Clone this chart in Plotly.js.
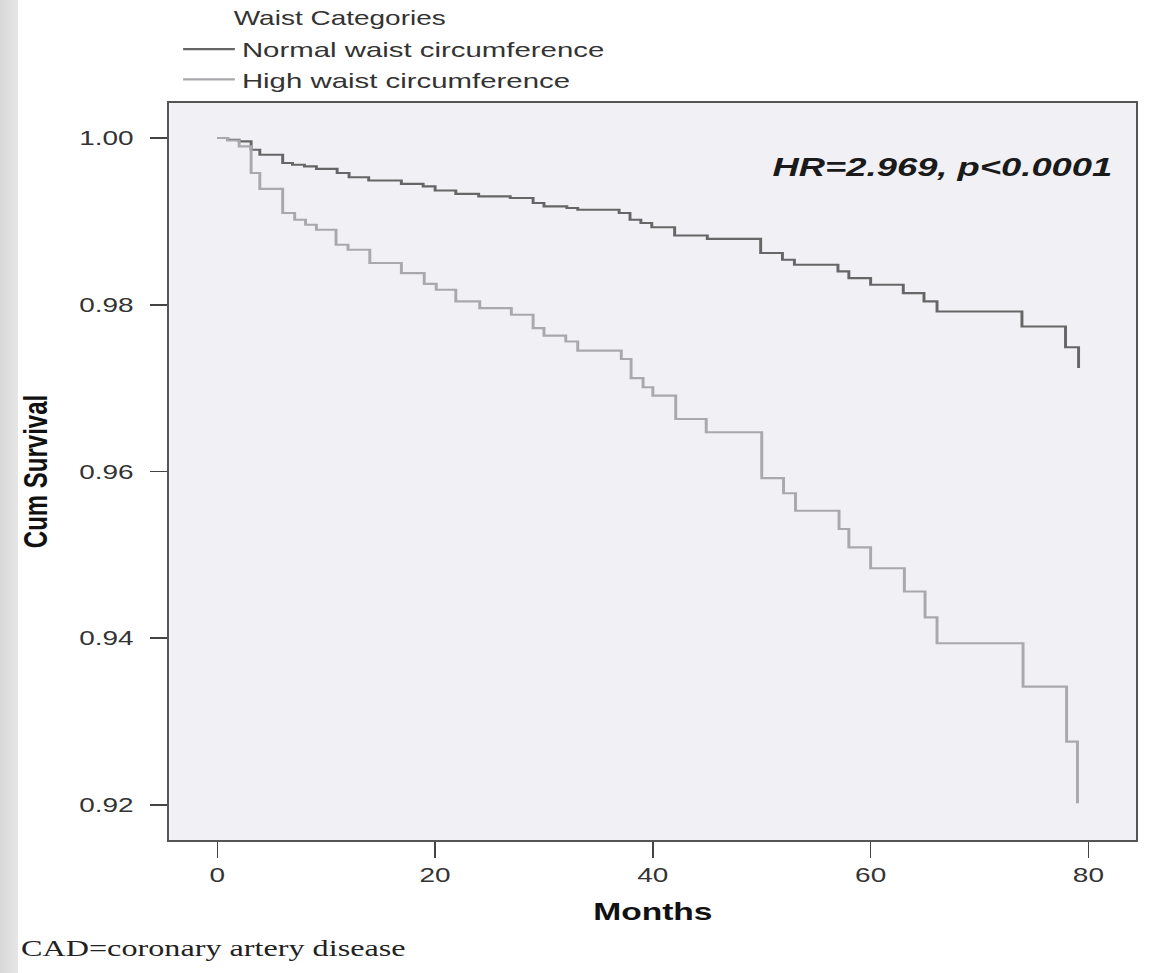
<!DOCTYPE html>
<html><head><meta charset="utf-8">
<script src="https://cdn.plot.ly/plotly-3.0.1.min.js"></script>
<style>
html,body{margin:0;padding:0;width:1156px;height:973px;overflow:hidden;}
body{background:linear-gradient(to right,#d8d8d8 0px,#e6e6e6 18px,#ffffff 18px,#ffffff 100%);}
#wrap{width:826px;height:973px;transform:scale(1.3995,1);transform-origin:0 0;}
</style></head><body>
<div id="wrap"><div id="chart" style="width:826px;height:973px;"></div></div>
<script>
// Data (months, cumulative survival)
var normalTime = [0, 0.95, 2.0, 3.1, 3.9, 6.0, 6.9, 8.0, 9.1, 11.0, 12.1, 13.9, 16.9, 18.9, 20.0, 21.9, 24.0, 26.9, 29.0, 30.0, 32.1, 33.1, 36.9, 37.9, 38.9, 39.9, 42.0, 45.0, 49.9, 51.9, 53.0, 57.0, 58.0, 60.0, 63.0, 64.9, 66.1, 73.9, 77.9, 79.1];
var normalSurv = [1.0000, 0.9998, 0.9996, 0.9986, 0.9980, 0.9970, 0.9968, 0.9966, 0.9963, 0.9958, 0.9953, 0.9949, 0.9945, 0.9942, 0.9937, 0.9933, 0.9930, 0.9928, 0.9922, 0.9918, 0.9916, 0.9914, 0.9910, 0.9902, 0.9898, 0.9893, 0.9883, 0.9879, 0.9862, 0.9854, 0.9848, 0.9840, 0.9832, 0.9824, 0.9814, 0.9804, 0.9792, 0.9774, 0.9749, 0.9724];
var highTime = [0, 0.95, 2.0, 3.1, 3.9, 6.0, 7.1, 8.1, 9.1, 10.9, 12.0, 14.0, 16.9, 19.0, 20.1, 21.9, 24.1, 27.0, 29.0, 30.0, 32.0, 33.1, 37.1, 38.0, 39.1, 40.0, 42.1, 44.9, 50.0, 52.0, 53.1, 57.1, 58.0, 60.0, 63.1, 65.0, 66.1, 74.0, 78.0, 79.0];
var highSurv = [1.0000, 0.9997, 0.9990, 0.9958, 0.9939, 0.9910, 0.9902, 0.9896, 0.9890, 0.9872, 0.9866, 0.9850, 0.9838, 0.9825, 0.9818, 0.9804, 0.9796, 0.9788, 0.9772, 0.9763, 0.9756, 0.9745, 0.9735, 0.9712, 0.9701, 0.9691, 0.9663, 0.9647, 0.9592, 0.9574, 0.9553, 0.9531, 0.9509, 0.9484, 0.9456, 0.9425, 0.9394, 0.9342, 0.9276, 0.9202];
var seriesNames = ["Normal waist circumference", "High waist circumference"];
var xTicks = [0, 20, 40, 60, 80];
var yTicks = [0.92, 0.94, 0.96, 0.98, 1.00];
var yTickLabels = ["0.92", "0.94", "0.96", "0.98", "1.00"];

var FONT = "Liberation Sans, Arial, Helvetica, sans-serif";

var traces = [
  {x: normalTime, y: normalSurv, name: seriesNames[0], type: "scatter", mode: "lines",
   line: {shape: "hv", color: "#666666", width: 2.1}},
  {x: highTime, y: highSurv, name: seriesNames[1], type: "scatter", mode: "lines",
   line: {shape: "hv", color: "#a9a9ad", width: 2.1}}
];

var layout = {
  width: 826, height: 973,
  margin: {l: 121, r: 14, t: 103, b: 133, pad: 0},
  paper_bgcolor: "rgba(0,0,0,0)",
  plot_bgcolor: "#f1f1f5",
  font: {family: FONT, color: "#333333"},
  showlegend: true,
  legend: {x: 0.007, xanchor: "left", y: 1.1005, yanchor: "top",
           itemwidth: 37,
           bgcolor: "rgba(0,0,0,0)", borderwidth: 0,
           font: {family: FONT, size: 21, color: "#333333"}},
  xaxis: {
    range: [-4.41, 84.41], tickvals: xTicks, ticktext: xTicks.map(String),
    ticks: "outside", ticklen: 16, tickwidth: 1.2, tickcolor: "#444444",
    showline: true, mirror: true, linecolor: "#555555", linewidth: 2,
    showgrid: false, zeroline: false,
    tickfont: {family: FONT, size: 20, color: "#333333"},
    title: {text: "Months", standoff: 18, font: {family: FONT, size: 24, weight: "bold", color: "#111111"}}
  },
  yaxis: {
    range: [0.9158, 1.0042], tickvals: yTicks, ticktext: yTickLabels,
    ticks: "outside", ticklen: 12, tickwidth: 1.6, tickcolor: "#444444",
    ticklabelstandoff: 8,
    showline: true, mirror: true, linecolor: "#555555", linewidth: 1.5,
    showgrid: false, zeroline: false,
    tickfont: {family: FONT, size: 20, color: "#333333"},
    title: {text: "Cum Survival", standoff: 15, font: {family: FONT, size: 24, weight: "bold", color: "#111111"}}
  },
  annotations: [
    {text: "Waist Categories", xref: "paper", yref: "paper", x: 0.0636, y: 1.1153,
     xanchor: "left", yanchor: "middle", showarrow: false,
     font: {family: FONT, size: 20, color: "#333333"}},
    {text: "HR=2.969, p<0.0001", xref: "paper", yref: "paper", x: 0.979, y: 0.913,
     xanchor: "right", yanchor: "middle", showarrow: false,
     font: {family: FONT, size: 26, weight: "bold", style: "italic", color: "#1a1a1a"}},
    {text: "CAD=coronary artery disease", xref: "paper", yref: "paper", x: -0.1564, y: -0.1475,
     xanchor: "left", yanchor: "middle", showarrow: false,
     font: {family: "Liberation Serif, Times New Roman, serif", size: 23, color: "#222222"}}
  ]
};

Plotly.newPlot("chart", traces, layout, {displayModeBar: false, staticPlot: true});
</script>
</body></html>
